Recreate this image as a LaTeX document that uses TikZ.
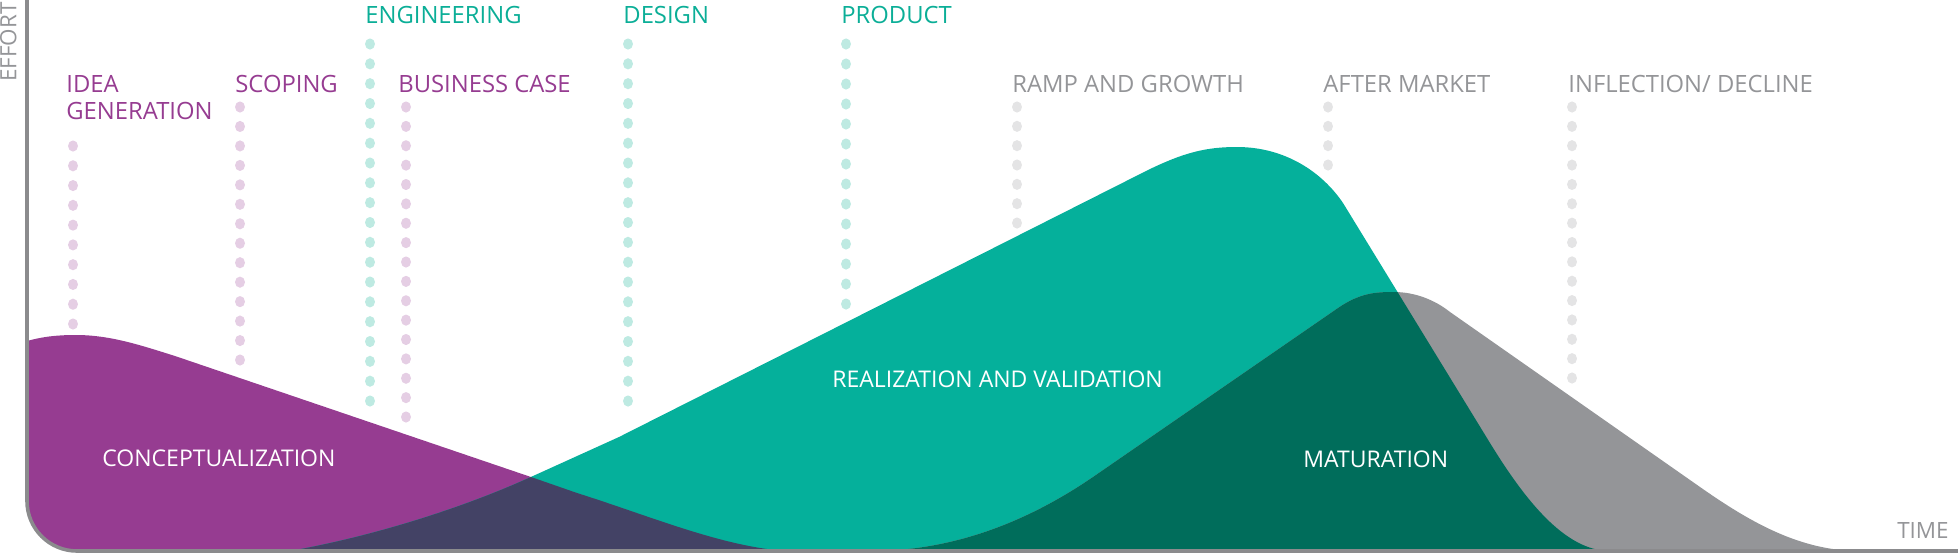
\documentclass[tikz,border=0pt]{standalone}
\usepackage{fontspec}
\setmainfont{Open Sans}
\usetikzlibrary{positioning}
\definecolor{concept}{HTML}{963C91}
\definecolor{realize}{HTML}{05B09B}
\definecolor{mature}{HTML}{949598}
\definecolor{overlapA}{HTML}{434265}
\definecolor{overlapB}{HTML}{006D5B}
\definecolor{axisgray}{HTML}{8B8B8D}
\definecolor{conceptdot}{HTML}{E5CEE4}
\definecolor{realizedot}{HTML}{BEEAE2}
\definecolor{maturedot}{HTML}{E4E4E5}
\definecolor{realizetext}{HTML}{0BAE97}
\newcommand{\conceptshape}{(27,551) -- (27,341) .. controls (45,336) and (60,335) .. (76,335) .. controls (110,335) and (140,345) .. (175,356) -- (531,477) -- (577,493) .. controls (650,516) and (720,546) .. (785,551) -- cycle}
\newcommand{\realizeshape}{(290,551) .. controls (380,535) and (470,505) .. (533,476) -- (619,437) -- (1148,170) .. controls (1185,152) and (1207,147) .. (1237,147) .. controls (1285,147) and (1322,172) .. (1343,203) -- (1490,443) .. controls (1525,500) and (1565,551) .. (1610,551) -- cycle}
\newcommand{\matureshape}{(875,551) .. controls (960,550) and (1033,518) .. (1093,477) -- (1338,308) .. controls (1360,293) and (1375,292) .. (1394,292) .. controls (1415,292) and (1435,300) .. (1450,312) -- (1700,487) .. controls (1750,522) and (1800,551) .. (1860,551) -- cycle}
\tikzset{phase/.style={inner sep=0pt, anchor=base west, font=\fontsize{11.9}{14}\selectfont},
  region/.style={inner sep=0pt, anchor=base west, text=white, font=\fontsize{11.5}{14}\selectfont},
  axislabel/.style={inner sep=0pt, text=mature, font=\fontsize{11.2}{14}\selectfont},
  axisline/.style={draw=axisgray, line width=1.8pt, rounded corners=25pt}}

\begin{document}
\begin{tikzpicture}[x=0.5pt,y=-0.5pt]
    \useasboundingbox (0,0) rectangle (1958,553);
    % dotted milestone columns
    \foreach \x/\ya/\yb/\n/\c in {73/146/324/10/conceptdot, 240/107/360/14/conceptdot, 370/44/401/19/realizedot, 406/107/417/17/conceptdot, 628/44/401/19/realizedot, 846/44/304/14/realizedot, 1017/107/223/7/maturedot, 1328/107/165/4/maturedot, 1572/107/378/15/maturedot}
        \foreach \i in {1,...,\n}
            \fill[\c] (\x,{\ya+(\i-1)*(\yb-\ya)/(\n-1)}) ellipse [x radius=2.5pt, y radius=2.8pt];
    % phase areas
    \begin{scope}
        \clip[rounded corners=25pt] (27,-100) -- (27,551) -- (2100,551) -- (2100,-100) -- cycle;
        \fill[concept] \conceptshape;
        \fill[realize] \realizeshape;
        \fill[mature] \matureshape;
        \begin{scope}
            \clip \realizeshape;
            \fill[overlapA] \conceptshape;
            \fill[overlapB] \matureshape;
        \end{scope}
    \end{scope}
    \path[axisline] (27,0) -- (27,551) -- (1958,551);
    % labels
    \node[phase, text=realizetext] (engineering) at (365,23) {ENGINEERING};
    \node[phase, text=realizetext] (design) at (623,23) {DESIGN};
    \node[phase, text=realizetext] (product) at (841,23) {PRODUCT};
    \node[phase, text=concept] (idea) at (66,92) {IDEA};
    \node[phase, text=concept] (generation) at ([yshift=-13.5pt]idea.base west) {GENERATION};
    \node[phase, text=concept] (scoping) at (235,92) {SCOPING};
    \node[phase, text=concept] (business) at (398,92) {BUSINESS CASE};
    \node[phase, text=mature] (ramp) at (1012,92) {RAMP AND GROWTH};
    \node[phase, text=mature] (after) at (1323,92) {AFTER MARKET};
    \node[phase, text=mature] (inflection) at (1568,92) {INFLECTION/ DECLINE};
    \node[region] (conceptualization) at (102,466) {CONCEPTUALIZATION};
    \node[region] (realization) at (832,387) {REALIZATION AND VALIDATION};
    \node[region] (maturation) at (1303,467) {MATURATION};
    \node[axislabel, anchor=base west, rotate=90] (effort) at (16.5,82) {EFFORT};
    \node[axislabel, anchor=base east] (time) at (1949,538) {TIME};
\end{tikzpicture}
\end{document}
